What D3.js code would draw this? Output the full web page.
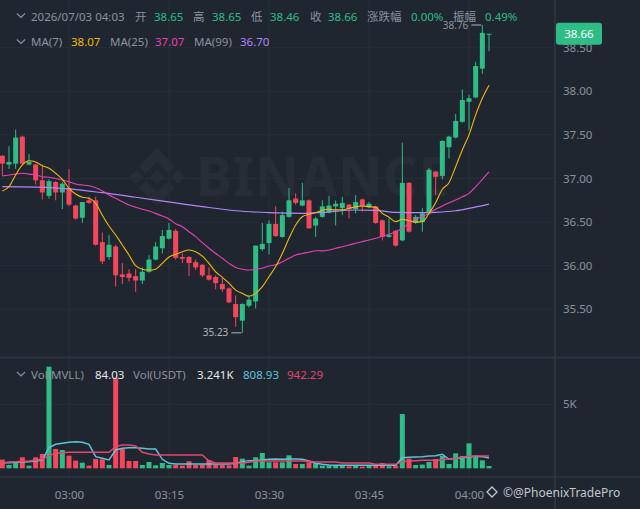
<!DOCTYPE html>
<html><head><meta charset="utf-8">
<script src="https://cdn.jsdelivr.net/npm/d3@7"></script>
<style>
html,body{margin:0;padding:0;background:#1f2630;overflow:hidden}
svg{display:block}
text{font-family:"Noto Sans","Noto Sans CJK SC",sans-serif;}
</style></head><body>
<svg id="c" width="640" height="509"></svg>
<script>
// ---------- data ----------
const startTime = "2026-07-03 02:50";
const openP  = [37.26,37.16,37.17,37.48,37.16,37.16,36.98,36.80,36.96,36.84,36.89,36.69,36.55,36.75,36.75,36.27,36.10,36.22,35.90,35.91,35.88,35.83,35.93,36.07,36.20,36.31,36.40,36.10,36.10,36.04,36.01,35.89,35.87,35.79,35.74,35.56,35.37,35.54,35.59,36.19,36.26,36.48,36.33,36.56,36.77,36.69,36.75,36.46,36.56,36.61,36.68,36.66,36.70,36.65,36.76,36.67,36.68,36.52,36.33,36.40,36.29,36.95,36.49,36.50,36.60,37.08,37.03,37.36,37.47,37.65,37.88,37.93,38.26,38.65];
const highP  = [37.27,37.37,37.56,37.49,37.28,37.17,37.16,36.99,36.97,36.96,37.11,36.70,36.73,36.79,36.79,36.38,36.35,36.24,36.03,35.96,35.96,35.98,36.12,36.27,36.41,36.49,36.42,36.14,36.11,36.07,36.02,35.98,35.89,35.86,35.75,35.66,35.57,35.66,36.23,36.49,36.52,36.68,36.62,36.89,36.83,36.95,36.76,36.56,36.75,36.80,36.75,36.79,36.71,36.81,36.77,36.73,36.69,36.53,36.54,36.41,37.41,36.96,36.58,36.66,37.12,37.09,37.44,37.49,37.74,38.02,37.96,38.34,38.76,38.66];
const lowP   = [37.03,37.11,37.11,37.16,37.15,36.93,36.76,36.77,36.75,36.65,36.68,36.53,36.49,36.71,36.23,36.02,36.07,35.76,35.79,35.82,35.70,35.79,35.92,36.06,36.14,36.30,36.07,36.03,35.88,35.95,35.87,35.83,35.73,35.70,35.57,35.30,35.23,35.52,35.51,36.17,36.13,36.33,36.32,36.55,36.70,36.68,36.42,36.33,36.55,36.60,36.46,36.58,36.54,36.60,36.62,36.66,36.48,36.29,36.32,36.22,36.28,36.38,36.48,36.39,36.59,36.81,36.99,37.23,37.46,37.64,37.55,37.92,38.20,38.46];
const closeP = [37.17,37.19,37.47,37.17,37.19,36.98,36.84,36.97,36.84,36.94,36.70,36.54,36.73,36.72,36.24,36.05,36.24,35.89,35.87,35.86,35.83,35.93,36.07,36.22,36.34,36.41,36.09,36.08,36.03,35.98,35.89,35.84,35.80,35.73,35.58,35.41,35.56,35.61,36.23,36.25,36.48,36.34,36.58,36.75,36.72,36.75,36.43,36.54,36.68,36.69,36.71,36.72,36.65,36.73,36.68,36.71,36.49,36.33,36.35,36.23,36.95,36.39,36.56,36.60,37.10,37.02,37.43,37.48,37.66,37.90,37.92,38.29,38.67,38.66];
const volume = [680,260,520,860,210,860,1120,7940,1510,1430,990,600,440,210,730,700,260,7030,1510,570,570,260,495,230,415,260,260,210,550,260,290,650,290,260,230,885,755,210,860,1200,470,470,470,1015,340,340,470,390,210,210,210,230,155,210,130,210,210,415,155,210,4240,755,260,290,495,730,965,340,1170,965,1950,910,625,180];
const ma7  = [36.857,36.906,37.04,37.155,37.204,37.19,37.147,37.117,37.06,36.99,36.888,36.822,36.785,36.773,36.716,36.58,36.455,36.352,36.237,36.123,36.0,35.96,35.95,35.96,36.027,36.10,36.13,36.16,36.18,36.16,36.11,36.027,35.93,35.867,35.80,35.72,35.683,35.65,35.683,35.76,35.874,35.99,36.14,36.314,36.467,36.562,36.59,36.608,36.635,36.647,36.64,36.64,36.658,36.677,36.685,36.677,36.67,36.60,36.555,36.505,36.532,36.516,36.50,36.505,36.60,36.722,36.876,36.952,37.135,37.327,37.50,37.73,37.92,38.07];
const ma25 = [37.029,37.04,37.05,37.06,37.05,37.04,37.02,37.014,37.0,36.983,36.963,36.937,36.925,36.917,36.894,36.857,36.81,36.773,36.734,36.696,36.67,36.647,36.627,36.60,36.57,36.535,36.482,36.447,36.39,36.333,36.264,36.20,36.14,36.085,36.027,35.98,35.96,35.95,35.96,35.97,35.997,36.01,36.046,36.085,36.123,36.14,36.154,36.172,36.17,36.18,36.20,36.218,36.237,36.257,36.276,36.295,36.314,36.34,36.36,36.39,36.43,36.486,36.532,36.562,36.60,36.647,36.685,36.722,36.753,36.79,36.83,36.906,36.99,37.075];
const ma99Idx = [0,5,10,15,20,26,30,35,40,45,48,53,56,59,63,65,68,70,73];
const ma99    = [36.906,36.90,36.88,36.837,36.785,36.72,36.677,36.63,36.608,36.60,36.612,36.639,36.635,36.612,36.608,36.612,36.63,36.658,36.707];
const volMaA = [443,443,469,495,521,573,651,1614,1874,1953,2031,2083,2031,1874,911,781,651,1432,1562,1614,1614,1562,1510,1510,703,391,338,338,338,338,338,338,338,338,338,391,521,599,599,651,703,729,703,729,729,703,573,391,312,260,234,234,234,234,234,234,234,234,234,234,833,859,885,911,963,989,1093,703,781,833,885,937,911,807];
const volMaB = [443,495,521,547,573,625,729,989,1172,1224,1250,1250,1250,1250,1250,1250,1250,1692,1822,1822,1744,1250,1120,1041,1041,1041,1041,1041,1041,1041,1041,573,417,417,417,417,417,469,573,573,573,573,573,573,573,573,547,495,495,495,495,417,417,417,417,417,312,312,312,312,521,573,599,625,625,625,677,729,781,859,937,963,963,963];
const priceTicks = [35.5,36,36.5,37,37.5,38,38.5];
const volTicks = [5000];
const timeTicks = ["2026-07-03 03:00","2026-07-03 03:15","2026-07-03 03:30","2026-07-03 03:45","2026-07-03 04:00"];

// ---------- setup ----------
const GREEN="#2ebd85", RED="#f6465d", GRAY="#8b929e", GRID="#282e39", SEP="#2d3440";
const C_MA7="#f0b90b", C_MA25="#eb40b5", C_MA99="#b385f8", C_VA="#5ec3d9", C_VB="#e4476f";
const svg=d3.select("#c");
const parse=d3.timeParse("%Y-%m-%d %H:%M");
const t0=parse(startTime);
const times=d3.timeMinute.range(t0, d3.timeMinute.offset(t0, openP.length));
const x=d3.scaleTime().domain([parse("2026-07-03 03:00"),parse("2026-07-03 04:00")]).range([69,469]);
const y=d3.scaleLinear().domain([35.5,38.5]).range([309.3,47.7]);
const yv=d3.scaleLinear().domain([0,5000]).range([468.3,404.3]);
const W=555;

svg.append("rect").attr("width",640).attr("height",509).attr("fill","#1f2630");

// watermark
const wm=svg.append("g").attr("fill","#ffffff").attr("fill-opacity",0.035);
const cx=157, cy=177;
wm.append("polygon").attr("points",[[cx,cy-29],[cx+18,cy-11],[cx+11,cy-4],[cx,cy-15],[cx-11,cy-4],[cx-18,cy-11]].join(" "));
wm.append("polygon").attr("points",[[cx,cy+29],[cx+18,cy+11],[cx+11,cy+4],[cx,cy+15],[cx-11,cy+4],[cx-18,cy+11]].join(" "));
wm.append("polygon").attr("points",[[cx,cy-7],[cx+7,cy],[cx,cy+7],[cx-7,cy]].join(" "));
[-21,21].forEach(d=>wm.append("polygon").attr("points",[[cx+d,cy-7],[cx+d+7,cy],[cx+d,cy+7],[cx+d-7,cy]].join(" ")));
wm.append("text").attr("x",196).attr("y",196).attr("font-size",54).attr("font-weight",700).attr("letter-spacing",1).text("BINANCE");

// grid
const g=svg.append("g");
g.selectAll(".vg").data(timeTicks).join("line").attr("x1",d=>x(parse(d))).attr("x2",d=>x(parse(d)))
 .attr("y1",0).attr("y2",477).attr("stroke",GRID).attr("stroke-width",1);
g.selectAll(".hg").data(priceTicks).join("line").attr("x1",0).attr("x2",W).attr("y1",d=>y(d)).attr("y2",d=>y(d))
 .attr("stroke",GRID).attr("stroke-width",1);
g.selectAll(".vgv").data(volTicks).join("line").attr("x1",0).attr("x2",W).attr("y1",d=>yv(d)).attr("y2",d=>yv(d))
 .attr("stroke",GRID).attr("stroke-width",1);
g.append("line").attr("x1",0).attr("x2",640).attr("y1",357.5).attr("y2",357.5).attr("stroke",SEP).attr("stroke-width",2);
g.append("line").attr("x1",0).attr("x2",640).attr("y1",477).attr("y2",477).attr("stroke",SEP).attr("stroke-width",1.5);
g.append("line").attr("x1",W).attr("x2",W).attr("y1",0).attr("y2",509).attr("stroke",SEP).attr("stroke-width",2);

// axes
function styleAxis(sel){sel.select(".domain").remove();sel.selectAll("line").remove();
 sel.selectAll("text").attr("fill",GRAY).attr("font-size",11.5).attr("font-family",'"Noto Sans","Noto Sans CJK SC",sans-serif');}
svg.append("g").attr("transform",`translate(${W},0)`)
 .call(d3.axisRight(y).tickValues(priceTicks).tickFormat(d3.format(".2f")).tickSize(0).tickPadding(8)).call(styleAxis);
svg.append("g").attr("transform",`translate(${W},0)`)
 .call(d3.axisRight(yv).tickValues(volTicks).tickFormat(d=>d3.format("~s")(d).replace("k","K")).tickSize(0).tickPadding(8)).call(styleAxis);
svg.append("g").attr("transform","translate(0,477)")
 .call(d3.axisBottom(x).tickValues(timeTicks.map(parse)).tickFormat(d3.timeFormat("%H:%M")).tickSize(0).tickPadding(14)).call(styleAxis);

// data rows
const rows=times.map((t,i)=>({t,o:openP[i],h:highP[i],l:lowP[i],c:closeP[i],v:volume[i],up:closeP[i]>=openP[i]}));
const BW=5;

// volume bars
svg.append("g").selectAll("rect").data(rows).join("rect")
 .attr("x",d=>x(d.t)-BW/2).attr("width",BW)
 .attr("y",d=>yv(d.v)).attr("height",d=>yv(0)-yv(d.v))
 .attr("fill",d=>d.up?GREEN:RED);

// volume MA lines
const vLine=arr=>d3.line().x((d,i)=>x(times[i])).y(d=>yv(d))(arr);
svg.append("path").attr("d",vLine(volMaA)).attr("fill","none").attr("stroke",C_VA).attr("stroke-width",1.5);
svg.append("path").attr("d",vLine(volMaB)).attr("fill","none").attr("stroke",C_VB).attr("stroke-width",1.5);

// candles
const cg=svg.append("g");
cg.selectAll("line").data(rows).join("line")
 .attr("x1",d=>x(d.t)).attr("x2",d=>x(d.t)).attr("y1",d=>y(d.h)).attr("y2",d=>y(d.l))
 .attr("stroke",d=>d.up?GREEN:RED).attr("stroke-width",1);
cg.selectAll("rect").data(rows).join("rect")
 .attr("x",d=>x(d.t)-BW/2).attr("width",BW)
 .attr("y",d=>y(Math.max(d.o,d.c))).attr("height",d=>Math.max(1,Math.abs(y(d.o)-y(d.c))))
 .attr("fill",d=>d.up?GREEN:RED);

// MA lines
const pLine=d3.line().x(d=>x(d[0])).y(d=>y(d[1])).curve(d3.curveMonotoneX);
svg.append("path").attr("d",pLine(ma99.map((v,k)=>[times[ma99Idx[k]],v]))).attr("fill","none").attr("stroke",C_MA99).attr("stroke-width",1.2);
svg.append("path").attr("d",pLine(ma25.map((v,i)=>[times[i],v]))).attr("fill","none").attr("stroke",C_MA25).attr("stroke-width",1.1);
svg.append("path").attr("d",pLine(ma7.map((v,i)=>[times[i],v]))).attr("fill","none").attr("stroke",C_MA7).attr("stroke-width",1.1);

// high / low markers
const hiI=d3.maxIndex(highP), loI=d3.minIndex(lowP);
const MK="#b0b6bf";
svg.append("line").attr("x1",x(times[hiI])-11).attr("x2",x(times[hiI])-1).attr("y1",y(highP[hiI])).attr("y2",y(highP[hiI])).attr("stroke",MK);
svg.append("text").attr("x",x(times[hiI])-14).attr("y",y(highP[hiI])+3.5).attr("text-anchor","end").attr("font-size",10).attr("fill",GRAY).text(highP[hiI].toFixed(2));
svg.append("line").attr("x1",x(times[loI])-11).attr("x2",x(times[loI])-1).attr("y1",y(lowP[loI])).attr("y2",y(lowP[loI])).attr("stroke",MK);
svg.append("text").attr("x",x(times[loI])-14).attr("y",y(lowP[loI])+3.5).attr("text-anchor","end").attr("font-size",10).attr("fill",MK).text(lowP[loI].toFixed(2));

// last price tag
const last=closeP[closeP.length-1];
svg.append("rect").attr("x",556).attr("y",y(last)-11).attr("width",46).attr("height",22).attr("rx",3).attr("fill",GREEN);
svg.append("text").attr("x",579).attr("y",y(last)+4).attr("text-anchor","middle").attr("font-size",11.5).attr("fill","#ffffff").text(last.toFixed(2));

// header texts
function chev(yc){svg.append("path").attr("d",`M17,${yc-2}L21,${yc+2}L25,${yc-2}`).attr("fill","none").attr("stroke",GRAY).attr("stroke-width",1.2);}
function txt(xp,yp,s,col){svg.append("text").attr("x",xp).attr("y",yp).attr("font-size",11.5).attr("fill",col).text(s);}
chev(15.5);
[[31,"2026/07/03 04:03",GRAY],[135,"开",GRAY],[154,"38.65",GREEN],[193,"高",GRAY],[212,"38.65",GREEN],[251,"低",GRAY],[270,"38.46",GREEN],[310,"收",GRAY],[328,"38.66",GREEN],[367,"涨跌幅",GRAY],[411,"0.00%",GREEN],[453,"振幅",GRAY],[485,"0.49%",GREEN]]
 .forEach(a=>txt(a[0],20.5,a[1],a[2]));
chev(41.5);
[[31,"MA(7)",GRAY],[71,"38.07",C_MA7],[110,"MA(25)",GRAY],[155,"37.07",C_MA25],[194,"MA(99)",GRAY],[240,"36.70",C_MA99]]
 .forEach(a=>txt(a[0],46,a[1],a[2]));
chev(374);
[[31,"Vol(MVLL)",GRAY],[95,"84.03","#e6e8ea"],[133,"Vol(USDT)",GRAY],[197,"3.241K","#e6e8ea"],[243,"808.93",C_VA],[287,"942.29",C_VB]]
 .forEach(a=>txt(a[0],379,a[1],a[2]));

// bottom-right credit
const bx=492, by=492;
svg.append("polygon").attr("points",[[bx,by-5],[bx+5,by],[bx,by+5],[bx-5,by]].join(" ")).attr("fill","none").attr("stroke","#c2c7ce").attr("stroke-width",1.3);
svg.append("text").attr("x",503).attr("y",496.5).attr("font-size",12).attr("fill","#c2c7ce").text("©@PhoenixTradePro");
</script>
</body></html>
